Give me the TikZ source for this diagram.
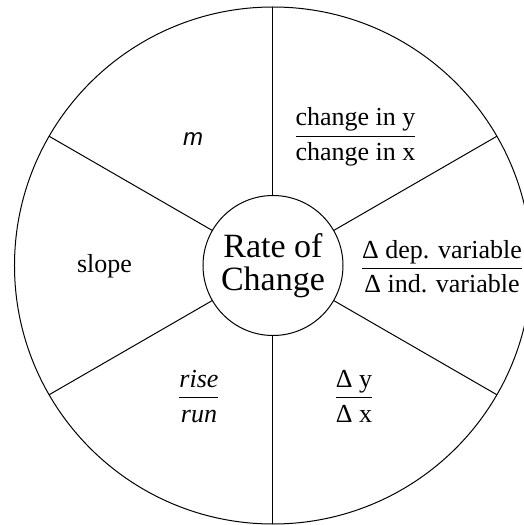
\documentclass[tikz,border=0pt]{standalone}
\usepackage{fontspec}
\setmainfont{Liberation Serif}
\setsansfont{Liberation Sans}
\usetikzlibrary{positioning}
\definecolor{wheelline}{HTML}{000000}
\definecolor{wheeltext}{HTML}{000000}
\setlength{\arrayrulewidth}{1pt}
\newcommand{\ratiotext}[2]{\begin{tabular}{@{}c@{}}#1\\[1pt]\hline\rule{0pt}{24pt}#2\end{tabular}}
\tikzset{
  wheel/.style={
    circle,
    draw=wheelline,
    line width=1pt,
    inner sep=0pt,
    outer sep=0pt,
  },
  spoke/.style={
    draw=wheelline,
    line width=1pt,
  },
  sector label/.style={
    font=\fontsize{26}{30}\selectfont,
    text=wheeltext,
    inner sep=0pt,
    align=center,
  },
  hub label/.style={
    font=\fontsize{34}{33}\selectfont,
    text=wheeltext,
    align=center,
  },
}

\begin{document}
\begin{tikzpicture}[x=1pt, y=1pt]
  \useasboundingbox (-273,-259.5) rectangle (250,265.5);

  \node[wheel, minimum size=517pt] (outer) at (0,0) {};
  \node[wheel, minimum size=140pt, hub label] (hub) at (0,0) {Rate of\\Change};

  % the six spokes
  \foreach \a in {30,90,...,330}
    \draw[spoke] (hub.\a) -- (outer.\a);

  \node[sector label, font=\fontsize{24}{28}\selectfont\sffamily\itshape] (slopem) at (-80,126.5) {m};
  \node[sector label] (changes) at (82.5,128) {\ratiotext{change in y}{change in x}};
  \node[sector label] (variables) at (169,-4) {\ratiotext{Δ dep. variable}{Δ ind. variable}};
  \node[sector label] (slope) at (-168.5,-1) {slope};
  \node[sector label] (riserun) at (-74,-133) {\ratiotext{\textit{rise}}{\textit{run}}};
  \node[sector label] (deltas) at (81,-133) {\ratiotext{Δ y}{Δ x}};
\end{tikzpicture}
\end{document}
